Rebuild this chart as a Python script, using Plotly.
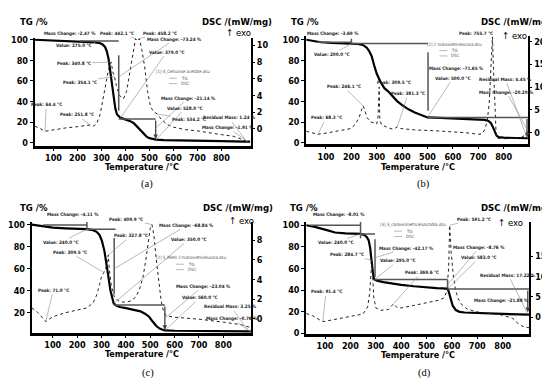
import numpy as np
import plotly.graph_objects as go

W, H = 550, 378
FN = "DejaVu Sans Condensed, Liberation Sans Narrow, Arial Narrow, Liberation Sans, sans-serif"
x_ticks = [100, 200, 300, 400, 500, 600, 700, 800]

# ---------------- (a) Cellulose acetate ----------------
a_tg_T = [22, 60, 100, 150, 200, 240, 275, 295, 305, 315, 322, 330, 338, 345, 352, 358, 365, 372, 379, 390,
          405, 420, 435, 450, 462, 475, 488, 500, 515, 528, 560, 600, 700, 800, 900, 920]
a_tg = [100, 99.7, 99.3, 98.9, 98.5, 98.1, 97.5, 96.6, 95.4, 93, 89, 81, 68, 55, 42, 33, 27.5, 25.3, 24.3, 23.5,
        22.6, 21.0, 19.0, 15.5, 12.0, 9.0, 6.0, 4.5, 3.6, 3.15, 2.7, 2.4, 2.0, 1.6, 1.24, 1.2]
a_dsc_T = [22, 40, 64.4, 100, 150, 200, 240, 251.8, 265, 280, 295, 305, 318, 330, 340.8, 347, 354.1, 362, 375, 392,
           405, 420, 432, 442.1, 450, 458.2, 468, 480, 492, 505, 520, 534.2, 550, 575, 600, 650, 700, 750, 800,
           850, 890, 915]
a_dsc = [0.3, 0.1, -0.3, -0.1, 0.1, 0.25, 0.4, 0.45, 0.3, 0.6, 1.8, 3.3, 5.5, 7.2, 8.0, 6.8, 6.3, 5.2, 4.0, 3.6,
         4.5, 7.0, 9.5, 10.8, 10.5, 10.8, 9.5, 7.5, 4.5, 2.6, 2.0, 1.75, 1.1, 0.5, 0.2, -0.1, -0.25, -0.5, -0.7,
         -0.9, -1.3, -1.7]

# ---------------- (b) 2-hidroxietilceluloza ----------------
b_tg_T = [22, 50, 80, 120, 160, 200, 225, 245, 260, 270, 280, 290, 300, 315, 330, 345, 360, 380, 400, 425, 450,
          475, 500, 550, 600, 650, 700, 725, 740, 750, 758, 765, 772, 780, 800, 850, 897]
b_tg = [100, 98.8, 97.6, 96.9, 96.6, 96.3, 95.9, 95, 92.5, 89, 84, 75, 67, 59, 53, 50, 45.5, 40.5, 36.5, 32.5,
        29.5, 27, 24.66, 24.2, 23.8, 23.4, 22.9, 22.3, 21.2, 19, 15, 10.5, 7, 5.5, 5.0, 4.7, 4.45]
b_dsc_T = [22, 45, 68.3, 100, 150, 197, 215, 230, 240, 246.1, 252, 262, 275, 290, 300, 305, 309.5, 312, 318, 340,
           360, 370, 381.3, 395, 450, 520, 600, 650, 700, 715, 725, 735, 743, 750, 755.7, 760, 765, 770, 775,
           790, 820, 850, 870, 885, 897]
b_dsc = [0.3, 0.0, -0.35, -0.1, 0.4, 0.9, 1.8, 3.3, 5.0, 5.9, 5.1, 3.3, 2.4, 2.0, 1.9, 3.5, 10.0, 3.0, 1.8, 1.2,
         0.8, 0.9, 1.3, 0.9, 0.6, 0.45, 0.2, 0.0, -0.35, -0.2, 0.6, 2.5, 6.5, 13, 21, 14, 5, 0, -1.2, -1.3,
         -1.3, -1.2, -1.0, -0.5, 0.5]

# ---------------- (c) 5-metil 2-hidroxietilceluloza ----------------
c_tg_T = [14, 40, 70, 100, 150, 200, 240, 265, 280, 292, 302, 312, 320, 328, 336, 344, 350, 360, 375, 400, 430,
          460, 480, 495, 505, 515, 525, 540, 560, 600, 700, 800, 913]
c_tg = [100, 99.2, 98, 97.3, 96.7, 96.3, 95.9, 95, 93.5, 90.5, 85, 76, 66, 53, 41, 32, 28.5, 26.5, 25.3, 24.2,
        23, 21.3, 19, 16.5, 13.5, 10.5, 8, 5.5, 4.0, 3.7, 3.5, 3.35, 3.2]
c_dsc_T = [14, 40, 71, 100, 150, 200, 240, 265, 280, 292, 300, 309.5, 318, 323, 327.8, 332, 340, 352, 365, 380,
           400, 420, 440, 455, 470, 482, 492, 500, 507, 515, 525, 535, 545, 555, 565, 600, 700, 800, 870, 913]
c_dsc = [1.1, 0.6, -0.3, 0.2, 0.6, 0.9, 1.1, 1.6, 2.4, 3.5, 4.3, 4.7, 5.2, 5.8, 6.5, 5.0, 3.4, 2.3, 1.9, 1.7,
         1.7, 1.8, 2.2, 2.9, 4.2, 6.0, 7.8, 9.2, 9.6, 8.5, 6.0, 3.6, 1.8, 0.7, 0.3, 0.15, -0.05, -0.35, -0.6, -0.9]

# ---------------- (d) 3-carboximetilceluloza Na ----------------
d_tg_T = [26, 60, 100, 140, 180, 215, 240, 255, 265, 272, 278, 283, 287, 291, 295, 305, 330, 360, 400, 450, 500,
          540, 565, 578, 583, 588, 595, 603, 615, 630, 650, 700, 800, 905]
d_tg = [100, 98.5, 96, 93.3, 92.4, 92.1, 91.99, 91, 89, 86, 79, 68, 58, 52, 49.82, 48.7, 47.3, 46, 44.8, 43.5,
        42.3, 41.8, 41.5, 41.3, 41.06, 38, 31, 25.5, 21.5, 19.8, 19.2, 18.6, 17.9, 17.22]
d_dsc_T = [26, 50, 91.4, 150, 200, 250, 268, 276, 284.7, 292, 300, 320, 350, 369.6, 385, 400, 450, 500, 550, 570,
           580, 587, 591.2, 597, 605, 615, 625, 640, 660, 700, 750, 800, 840, 860, 880, 905]
d_dsc = [0.9, 0.4, -1.1, -0.4, 0.1, 0.8, 2.5, 6, 14, 5, 2.3, 1.7, 1.9, 3.3, 2.3, 2.3, 2.9, 3.5, 4.2, 4.8, 6.5,
         12, 22.6, 16, 10.5, 6.5, 4.5, 3, 2.0, 1.3, 0.9, 0.5, -0.3, -1.5, -2.3, -2.6]

# labels: (text, text_x_px, text_y_px, target)
a_labels = [
    ("Mass Change: -2.47 %", 56, 23, None),
    ("Value: 275.0 °C", 60, 35, ("tg", 275)),
    ("Peak: 442.1 °C", 104, 22.7, ("dsc", 442.1)),
    ("Peak: 458.2 °C", 147, 22.7, ("dsc", 458.2)),
    ("Mass Change: -73.24 %", 161, 29.5, ("pt", 372, 64)),
    ("Value: 379.0 °C", 153, 43.3, ("tg", 379)),
    ("Peak: 340.8 °C", 60, 53.3, ("dsc", 340.8)),
    ("Peak: 354.1 °C", 66, 72.3, ("dsc", 354.1)),
    ("Peak: 64.4 °C", 31.7, 96, ("dsc", 64.4)),
    ("Peak: 251.8 °C", 63, 106, ("dsc", 251.8)),
    ("Mass Change: -21.14 %", 175, 89.3, ("pt", 526, 14)),
    ("Value: 528.0 °C", 172, 100, ("tg", 528)),
    ("Peak: 534.2 °C", 176, 110, ("dsc", 534.2)),
    ("Residual Mass: 1.24 %", 217, 109.3, ("tg", 905)),
    ("Mass Change: -1.91 %", 216, 119, ("tg", 910)),
]
b_labels = [
    ("Mass Change: -3.69 %", 322, 22.7, None),
    ("Value: 200.0 °C", 321.7, 44, ("tg", 200)),
    ("Peak: 755.7 °C", 467, 22.7, ("dsc", 755.7)),
    ("Mass Change: -71.65 %", 447, 58.3, ("pt", 502, 70)),
    ("Value: 500.0 °C", 443, 69.3, ("tg", 500)),
    ("Peak: 309.5 °C", 384, 73.3, ("dsc", 309.5)),
    ("Peak: 246.1 °C", 333, 77.3, ("dsc", 246.1)),
    ("Peak: 381.3 °C", 398, 85, ("dsc", 381.3)),
    ("Peak: 68.3 °C", 315, 109.3, ("dsc", 68.3)),
    ("Residual Mass: 4.45 %", 497, 70.7, ("tg", 893)),
    ("Mass Change: -20.20 %", 498, 83.3, ("pt", 890, 14)),
]
c_labels = [
    ("Mass Change: -4.11 %", 58.7, 207, None),
    ("Value: 240.0 °C", 47, 235.2, ("tg", 240)),
    ("Peak: 409.9 °C", 113, 212.6, ("dsc", 507)),
    ("Mass Change: -68.84 %", 173, 219.4, ("pt", 352, 60)),
    ("Peak: 327.8 °C", 117, 229.5, ("dsc", 327.8)),
    ("Value: 350.0 °C", 175, 233.9, ("tg", 350)),
    ("Peak: 309.5 °C", 56, 246.3, ("dsc", 309.5)),
    ("Peak: 71.0 °C", 38.7, 285, ("dsc", 71)),
    ("Mass Change: -23.04 %", 190, 281, ("pt", 560, 15)),
    ("Value: 560.0 °C", 187, 292.5, ("tg", 560)),
    ("Residual Mass: 3.25 %", 219, 302, ("tg", 905)),
    ("Mass Change: -0.76 %", 220, 313.7, ("tg", 910)),
]
d_labels = [
    ("Mass Change: -8.01 %", 328, 207.7, None),
    ("Value: 240.0 °C", 325, 235.7, ("tg", 240)),
    ("Peak: 591.2 °C", 465, 212.3, ("dsc", 591.2)),
    ("Mass Change: -42.17 %", 396, 241.7, ("pt", 297, 70)),
    ("Peak: 284.7 °C", 336.7, 248.3, ("dsc", 284.7)),
    ("Value: 295.0 °C", 387.5, 255, ("tg", 295)),
    ("Mass Change: -8.76 %", 470, 241.7, ("pt", 583, 45)),
    ("Value: 583.0 °C", 470, 251.7, ("tg", 583)),
    ("Peak: 369.6 °C", 411.7, 266.7, ("dsc", 369.6)),
    ("Residual Mass: 17.22 %", 500, 270, ("tg", 900)),
    ("Peak: 91.4 °C", 315, 286.7, ("dsc", 91.4)),
    ("Mass Change: -21.88 %", 493, 295, ("pt", 898, 28)),
]

# step markers (T0, v0, T1, v1) on TG axis; arrows (T, v_from, v_to)
a_steps = [(210, 98.8, 372, 98.8), (372, 85, 372, 31), (372, 23.2, 526, 23.2)]
a_arrows = [(526, 23.2, 3.6)]
b_steps = [(60, 97.5, 200, 97.5), (200, 101, 200, 96.3), (200, 96.3, 502, 96.3), (502, 88, 502, 31),
           (502, 24.66, 897, 24.66)]
b_arrows = [(892, 24.66, 5.0)]
c_steps = [(60, 99.6, 240, 99.6), (240, 103, 240, 95.9), (240, 95.9, 358, 95.9), (352, 88, 352, 37),
           (352, 27.05, 560, 27.05)]
c_arrows = [(560, 27.05, 4.5)]
d_steps = [(40, 100, 240, 100), (240, 104, 240, 88), (240, 91.99, 297, 91.99), (297, 87, 297, 52),
           (297, 49.82, 583, 49.82), (583, 49.82, 583, 42), (583, 41.06, 905, 41.06)]
d_arrows = [(899, 41.06, 19.5)]

panels = [
    dict(px=(20, 239), py=(27, 137.3), xr=(21.8, 923.4), tgr=(-2.86, 102.2), dscr=(-2.035, 10.94),
         tgt=[0, 20, 40, 60, 80, 100], dsct=[0, 2, 4, 6, 8, 10],
         tg=(a_tg_T, a_tg), dsc=(a_dsc_T, a_dsc), labels=a_labels, steps=a_steps, arrows=a_arrows,
         legend=("[1] 4_Cellulose acetate.dsu", 170, 62.5), leg_x=(156, 164),
         tgtitle=(19, 11), dsctitle=(262, 11), exo=(226, 22), xtitle=(129, 158.5), sub=("(a)", 134, 176)),
    dict(px=(295, 520), py=(25, 135.7), xr=(22.2, 897.3), tgr=(-1.33, 104.1), dscr=(-2.52, 21.3),
         tgt=[0, 20, 40, 60, 80, 100], dsct=[0, 5, 10, 15, 20],
         tg=(b_tg_T, b_tg), dsc=(b_dsc_T, b_dsc), labels=b_labels, steps=b_steps, arrows=b_arrows,
         legend=("[2] 2 hidroxietilcelulosa.dsu", 445, 34.3), leg_x=(430, 438),
         tgtitle=(294, 11), dsctitle=(545, 11), exo=(506, 25), xtitle=(408, 158.5), sub=("(b)", 414, 176)),
    dict(px=(17, 239), py=(215, 328), xr=(13.7, 913.5), tgr=(1.74, 102.4), dscr=(-1.45, 9.85),
         tgt=[20, 40, 60, 80, 100], dsct=[0, 2, 4, 6, 8],
         tg=(c_tg_T, c_tg), dsc=(c_dsc_T, c_dsc), labels=c_labels, steps=c_steps, arrows=c_arrows,
         legend=("[2] 5_Metil 2-hidroxietilcelulosa.dsu", 179, 252), leg_x=(163, 171),
         tgtitle=(19, 200), dsctitle=(263, 200), exo=(229, 213), xtitle=(129, 349), sub=("(c)", 135, 368.5)),
    dict(px=(295, 521), py=(215, 329), xr=(26.1, 905.1), tgr=(-0.64, 103.0), dscr=(-4.1, 23.4),
         tgt=[0, 20, 40, 60, 80, 100], dsct=[0, 5, 10, 15],
         tg=(d_tg_T, d_tg), dsc=(d_dsc_T, d_dsc), labels=d_labels, steps=d_steps, arrows=d_arrows,
         legend=("[3] 3_carboximetilcelulozaNa.dsu", 403, 218.3), leg_x=(384, 392),
         tgtitle=(293, 200), dsctitle=(545, 200), exo=(502, 215), xtitle=(408, 350), sub=("(d)", 415, 369)),
]


def d2px(p, T, v, which):
    x0, x1 = p["px"]
    y0, y1 = p["py"]
    xr = p["xr"]
    r = p["tgr"] if which == "tg" else p["dscr"]
    px = x0 + (T - xr[0]) / (xr[1] - xr[0]) * (x1 - x0)
    py = y1 - (v - r[0]) / (r[1] - r[0]) * (y1 - y0)
    return px, py


fig = go.Figure()
layout = dict(width=W, height=H, margin=dict(l=0, r=0, t=0, b=0), paper_bgcolor="white",
              plot_bgcolor="rgba(0,0,0,0)", showlegend=False)
annotations = []
shapes = []


def txt(text, x, y, size, weight="bold", color="black", family=FN, xanchor="center"):
    annotations.append(dict(text=text, x=x / W, y=1 - y / H, xref="paper", yref="paper", showarrow=False,
                            xanchor=xanchor, yanchor="middle",
                            font=dict(family=family, size=size, color=color, weight=weight)))


for i, p in enumerate(panels):
    sx = "" if i == 0 else str(i + 1)
    xid = "x" + sx
    ytg = "y" + ("" if i == 0 else str(2 * i + 1))
    ydsc = "y" + str(2 * i + 2)
    xkey = "xaxis" + sx
    ytgkey = "yaxis" + ("" if i == 0 else str(2 * i + 1))
    ydsckey = "yaxis" + str(2 * i + 2)
    tickfont = dict(family=FN, size=9, color="black", weight="bold")
    layout[xkey] = dict(domain=[p["px"][0] / W, p["px"][1] / W], range=list(p["xr"]), anchor=ytg,
                        tickvals=x_ticks, showline=True, linecolor="black", linewidth=2.5, ticks="outside",
                        ticklen=2, tickcolor="black", tickfont=tickfont, showgrid=False, zeroline=False)
    layout[ytgkey] = dict(domain=[1 - p["py"][1] / H, 1 - p["py"][0] / H], range=list(p["tgr"]), anchor=xid,
                          tickvals=p["tgt"], showline=True, linecolor="black", linewidth=2, ticks="outside",
                          ticklen=3, tickcolor="black", tickfont=tickfont, showgrid=False, zeroline=False)
    layout[ydsckey] = dict(overlaying=ytg, side="right", range=list(p["dscr"]), anchor=xid,
                           tickvals=p["dsct"], showline=True, linecolor="black", linewidth=2, ticks="outside",
                           ticklen=2, tickcolor="black", tickfont=tickfont, showgrid=False, zeroline=False)

    # step markers
    for (T0, v0, T1, v1) in p["steps"]:
        shapes.append(dict(type="line", xref=xid, yref=ytg, x0=T0, y0=v0, x1=T1, y1=v1,
                           line=dict(color="#555555", width=1.5)))
    for (T, vf, vt) in p["arrows"]:
        annotations.append(dict(x=T, y=vt, ax=T, ay=vf, xref=xid, yref=ytg, axref=xid, ayref=ytg,
                                showarrow=True, arrowhead=2, arrowsize=0.7, arrowwidth=1.3,
                                arrowcolor="#444444", text=""))

    # curves
    fig.add_trace(go.Scatter(x=p["dsc"][0], y=p["dsc"][1], mode="lines", xaxis=xid, yaxis=ydsc,
                             line=dict(color="#222222", width=1.0, dash="dot")))
    fig.add_trace(go.Scatter(x=p["tg"][0], y=p["tg"][1], mode="lines", xaxis=xid, yaxis=ytg,
                             line=dict(color="black", width=2.2)))

    # leader labels
    for (text, tx, ty, tgtspec) in p["labels"]:
        if tgtspec is None:
            txt(text, tx, ty, 4.6, color="#222222")
            continue
        if tgtspec[0] == "tg":
            T = tgtspec[1]
            px, py = d2px(p, T, float(np.interp(T, p["tg"][0], p["tg"][1])), "tg")
        elif tgtspec[0] == "dsc":
            T = tgtspec[1]
            px, py = d2px(p, T, float(np.interp(T, p["dsc"][0], p["dsc"][1])), "dsc")
        else:
            px, py = d2px(p, tgtspec[1], tgtspec[2], "tg")
        annotations.append(dict(text=text, x=px / W, y=1 - py / H, xref="paper", yref="paper",
                                ax=tx - px, ay=ty - py, showarrow=True, arrowhead=0, arrowwidth=0.6,
                                arrowcolor="#8a8a8a", standoff=0,
                                font=dict(family=FN, size=4.6, color="#222222", weight="bold")))

    # legend block
    ltext, lx, ly = p["legend"]
    txt(ltext, lx, ly, 4.4, weight="normal", color="#555555")
    lx0, lx1 = p["leg_x"]
    for k, name in enumerate(["TG", "DSC"]):
        yy = ly + 6 + 5.5 * k
        shapes.append(dict(type="line", xref="paper", yref="paper", x0=lx0 / W, x1=lx1 / W,
                           y0=1 - yy / H, y1=1 - yy / H, line=dict(color="#888888", width=0.6)))
        txt(name, lx1 + 2, yy, 4.4, weight="normal", color="#555555", xanchor="left")

    # titles
    txt("TG /%", p["tgtitle"][0], p["tgtitle"][1], 9.5)
    txt("DSC /(mW/mg)", p["dsctitle"][0], p["dsctitle"][1], 9.5, xanchor="right")
    txt("↑ exo", p["exo"][0], p["exo"][1], 9.5, weight="normal")
    txt("Temperature /°C", p["xtitle"][0], p["xtitle"][1], 9)
    txt(p["sub"][0], p["sub"][1], p["sub"][2], 10.5, weight="normal",
        family="Liberation Serif, DejaVu Serif, serif")

layout["annotations"] = annotations
layout["shapes"] = shapes
fig.update_layout(**layout)
fig.write_html("out.html")
